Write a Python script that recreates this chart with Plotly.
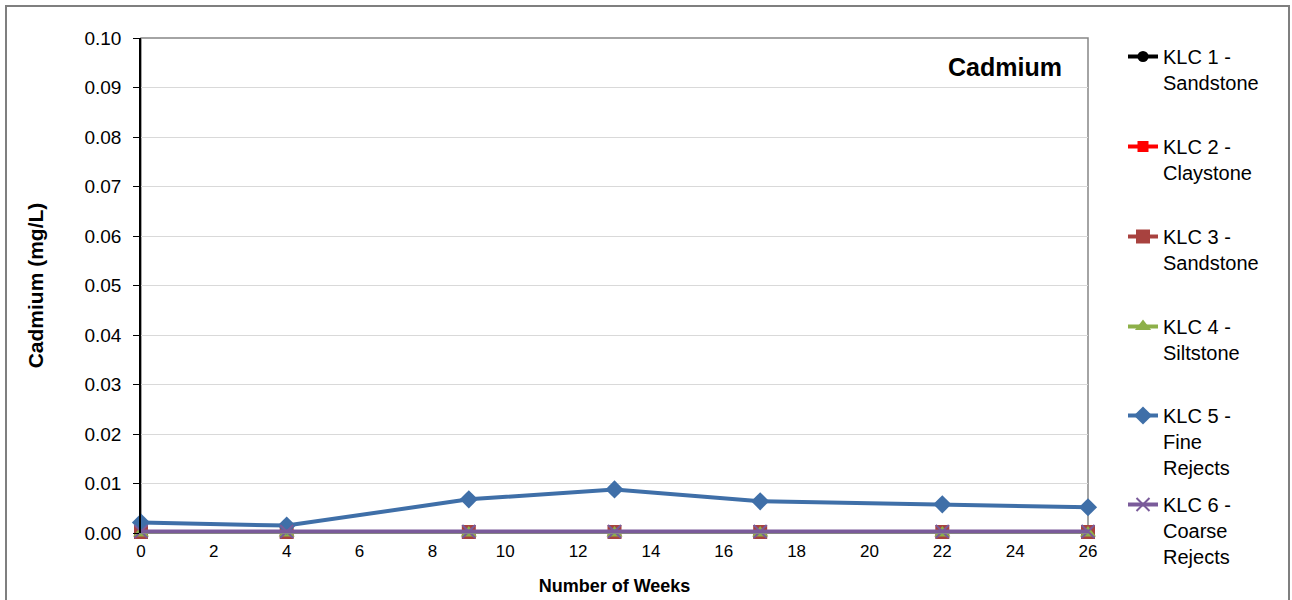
import plotly.graph_objects as go

weeks = [0, 4, 9, 13, 17, 22, 26]
klc1 = [0.0001, 0.0001, 0.0001, 0.0001, 0.0001, 0.0001, 0.0001]
klc2 = [0.0001, 0.0001, 0.0001, 0.0001, 0.0001, 0.0001, 0.0001]
klc3 = [0.0002, 0.0002, 0.0002, 0.0002, 0.0002, 0.0002, 0.0002]
klc4 = [0.0, 0.0, 0.0, 0.0, 0.0, 0.0, 0.0]
klc5 = [0.0021, 0.0015, 0.0068, 0.0088, 0.0064, 0.0058, 0.0052]
klc6 = [0.0003, 0.0003, 0.0003, 0.0003, 0.0003, 0.0003, 0.0003]

names = ["KLC 1 -<br>Sandstone", "KLC 2 -<br>Claystone", "KLC 3 -<br>Sandstone",
         "KLC 4 -<br>Siltstone", "KLC 5 -<br>Fine<br>Rejects", "KLC 6 -<br>Coarse<br>Rejects"]
series = [klc1, klc2, klc3, klc4, klc5, klc6]
colors = ["#000000", "#FF0000", "#A8423F", "#8DB049", "#3F6FA8", "#7A5B9A"]
symbols = ["circle", "square", "square", "triangle-up", "diamond", "x-thin"]
msizes = [11, 11, 14, 14, 14, 13]

fig = go.Figure()
L, R, T, B = 141, 1088, 38, 533
legend_tops = [37, 127, 217, 307, 396, 485]
font = "Arial, Liberation Sans, sans-serif"

for i, (nm, ys, c, s, ms) in enumerate(zip(names, series, colors, symbols, msizes)):
    lg = "legend" if i == 0 else f"legend{i+1}"
    mk = dict(symbol=s, size=ms, color=c)
    if s == "x-thin":
        mk["line"] = dict(color=c, width=2)
    fig.add_trace(go.Scatter(x=weeks, y=ys, name=nm, mode="lines+markers",
                             line=dict(color=c, width=4), marker=mk, legend=lg,
                             cliponaxis=False))

legend_layout = {}
for i, top in enumerate(legend_tops):
    key = "legend" if i == 0 else f"legend{i+1}"
    legend_layout[key] = dict(
        x=(1123 - L) / (R - L), xanchor="left",
        y=(B - top) / (B - T), yanchor="top",
        font=dict(family=font, size=20, color="#000000"),
        bgcolor="rgba(0,0,0,0)", valign="top", itemwidth=30,
    )

fig.update_layout(
    width=1292, height=600,
    margin=dict(l=L, r=1292 - R, t=T, b=600 - B, autoexpand=False),
    paper_bgcolor="white", plot_bgcolor="white",
    font=dict(family=font, size=18, color="#000000"),
    xaxis=dict(range=[0, 26], tickvals=list(range(0, 27, 2)), showgrid=False,
               showline=True, linecolor="#868686", linewidth=1, mirror=False,
               ticks="", tickfont=dict(size=17), zeroline=False, ticklabelstandoff=3,
               automargin=False,
               title=dict(text="<b>Number of Weeks</b>", font=dict(size=18), standoff=18)),
    yaxis=dict(range=[0, 0.10], tickvals=[i / 100 for i in range(11)],
               ticktext=[f"{i/100:.2f}" for i in range(11)],
               showgrid=True, gridcolor="#D9D9D9", gridwidth=1,
               showline=True, linecolor="#000000", linewidth=1.5,
               ticks="outside", ticklen=6, tickcolor="#000000",
               tickfont=dict(size=19), zeroline=False, ticklabelstandoff=8,
               automargin=False,
               title=dict(text="<b>Cadmium (mg/L)</b>", font=dict(size=21), standoff=35)),
    showlegend=True,
    **legend_layout,
)

# plot-area border (top and right) and outer chart border
fig.add_shape(type="rect", xref="paper", yref="paper", x0=0, x1=1, y0=0, y1=1,
              line=dict(color="#868686", width=1.5), layer="below")
fig.add_shape(type="rect", xref="paper", yref="paper",
              x0=(6 - L) / (R - L), x1=(1289 - L) / (R - L),
              y0=(B - 620) / (B - T), y1=(B - 6) / (B - T),
              line=dict(color="#7F7F7F", width=2))

fig.add_annotation(text="<b>Cadmium</b>", xref="paper", yref="paper",
                   x=(1064 - L) / (R - L), y=(B - 67) / (B - T),
                   xanchor="right", yanchor="middle", showarrow=False,
                   font=dict(family=font, size=25, color="#000000"))

fig.write_html("out.html", config={"displayModeBar": False},
               post_script="document.body.style.margin='0';")
